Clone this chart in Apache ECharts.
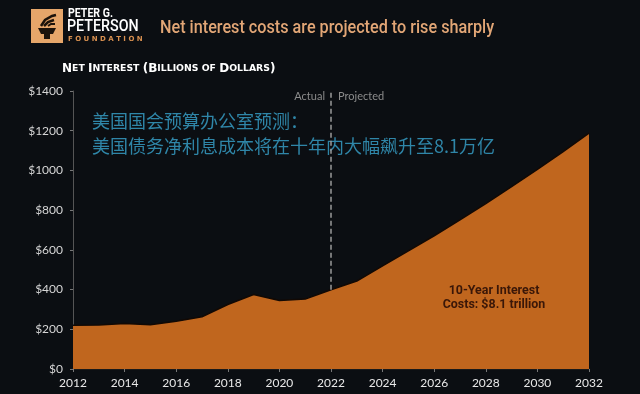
<!DOCTYPE html>
<html><head><meta charset="utf-8">
<script src="https://cdn.jsdelivr.net/npm/echarts@6/dist/echarts.min.js"></script>
<style>html,body{margin:0;padding:0;background:#0b0e12;} #c{width:640px;height:394px;}</style>
</head><body><div id="c"></div>
<script>
// ---- data ----
const actualYears = [2012,2013,2014,2015,2016,2017,2018,2019,2020,2021,2022];
const actualValues = [220,221,229,223,240,263,325,375,345,352,399];
const projectedYears = [2023,2024,2025,2026,2027,2028,2029,2030,2031,2032];
const projectedValues = [443,519,595,671,751,833,918,1005,1095,1188];
const yTicks = [0,200,400,600,800,1000,1200,1400];
const xTicks = [2012,2014,2016,2018,2020,2022,2024,2026,2028,2030,2032];
const splitYear = 2022;
const titleText = 'Net interest costs are projected to rise sharply';
const noteLine1 = '美国国会预算办公室预测：';
const noteLine2 = '美国债务净利息成本将在十年内大幅飙升至8.1万亿';
const calloutLines = ['10-Year Interest', 'Costs: $8.1 trillion'];

const years = actualYears.concat(projectedYears);
const values = actualValues.concat(projectedValues);
const seriesData = years.map((y, i) => [y, values[i]]);
const splitValue = actualValues[actualValues.length - 1];

const chart = echarts.init(document.getElementById('c'));
chart.setOption({
  backgroundColor: '#0b0e12',
  animation: false,
  grid: { left: 73, right: 51, top: 91, bottom: 25 },
  xAxis: {
    type: 'value', min: xTicks[0], max: xTicks[xTicks.length - 1], interval: 2,
    axisLine: { show: true, lineStyle: { color: '#1a1a1a', width: 2 } },
    axisTick: { show: true, length: 3, lineStyle: { color: '#777' } },
    axisLabel: { color: '#e8e8e8', fontSize: 12, fontFamily: 'Lato', margin: 8, formatter: v => String(v) },
    splitLine: { show: false }
  },
  yAxis: {
    type: 'value', min: yTicks[0], max: yTicks[yTicks.length - 1], interval: 200,
    axisLine: { show: true, lineStyle: { color: '#555' } },
    axisTick: { show: true, length: 3, lineStyle: { color: '#777' } },
    axisLabel: { color: '#d6d6d6', fontSize: 12, fontFamily: 'Lato', margin: 10, formatter: v => '$' + v },
    splitLine: { show: false }
  },
  series: [{
    type: 'line',
    data: seriesData,
    symbol: 'none',
    lineStyle: { color: '#120904', width: 1.5 },
    areaStyle: { color: '#C0661E', opacity: 1 },
    z: 3,
    markLine: {
      silent: true, symbol: 'none', animation: false,
      lineStyle: { color: '#9a9a9a', type: [5, 3], width: 1.5 },
      label: { show: false },
      data: [[{ coord: [splitYear, splitValue] }, { coord: [splitYear, yTicks[yTicks.length - 1]] }]]
    }
  }],
  graphic: [
    // logo
    { type: 'rect', shape: { x: 31, y: 9, width: 32, height: 34 }, style: { fill: '#E6A66A' } },
    { type: 'polygon', shape: { points: [[38,28],[56,28],[53,34],[41,34]] }, style: { fill: '#1c130b' } },
    { type: 'rect', shape: { x: 44, y: 34, width: 6, height: 5 }, style: { fill: '#1c130b' } },
    { type: 'polyline', shape: { points: [[41,26],[45,20],[52,16],[56,15]] }, style: { stroke: '#1c130b', lineWidth: 2.5, fill: null } },
    { type: 'polyline', shape: { points: [[44,26],[48,22],[54,20]] }, style: { stroke: '#1c130b', lineWidth: 2.5, fill: null } },
    { type: 'polyline', shape: { points: [[48,26],[51,24],[55,24]] }, style: { stroke: '#1c130b', lineWidth: 2, fill: null } },
    { type: 'text', x: 68, y: 14, scaleX: 0.88, style: { text: 'PETER G.', x: 0, y: 0, fill: '#ffffff', font: "bold 12px Roboto, sans-serif", textVerticalAlign: 'middle' } },
    { type: 'text', x: 67, y: 27, scaleX: 0.84, style: { text: 'PETERSON', x: 0, y: 0, fill: '#ffffff', font: "500 17px Roboto, sans-serif", textVerticalAlign: 'middle' } },
    { type: 'text', style: { text: 'F O U N D A T I O N', x: 68, y: 39.5, fill: '#D89050', font: "bold 7px 'DejaVu Sans', sans-serif", textVerticalAlign: 'middle' } },
    // title
    { type: 'text', x: 160, y: 28, scaleX: 0.9, style: { text: titleText, x: 0, y: 0, fill: '#E2A676', font: "500 18px Roboto, sans-serif", textVerticalAlign: 'middle' } },
    // subtitle in small caps
    { type: 'text', style: {
        x: 62, y: 69, textVerticalAlign: 'middle', fill: '#ffffff',
        text: '{b|N}{s|ET }{b|I}{s|NTEREST }{b|(B}{s|ILLIONS OF }{b|D}{s|OLLARS}{b|)}',
        rich: {
          b: { fontSize: 12, fontWeight: 'bold', fontFamily: 'DejaVu Sans', fill: '#ffffff', color: '#ffffff' },
          s: { fontSize: 9.3, fontWeight: 'bold', fontFamily: 'DejaVu Sans', fill: '#ffffff', color: '#ffffff' }
        } } },
    // actual / projected labels
    { type: 'text', style: { text: 'Actual', x: 325, y: 96, fill: '#8c8c8c', font: "11px Lato", textAlign: 'right', textVerticalAlign: 'middle' } },
    { type: 'text', style: { text: 'Projected', x: 338, y: 96, fill: '#8c8c8c', font: "11px Lato", textAlign: 'left', textVerticalAlign: 'middle' } },
    // chinese note
    { type: 'text', style: { text: noteLine1, x: 92, y: 121, fill: '#2f86a8', font: "18px 'Noto Sans CJK SC', sans-serif", textVerticalAlign: 'middle' } },
    { type: 'text', style: { text: noteLine2, x: 92, y: 146, fill: '#2f86a8', font: "18px 'Noto Sans CJK SC', sans-serif", textVerticalAlign: 'middle' } },
    // callout
    { type: 'text', z: 10, x: 494, y: 291, scaleX: 0.92, style: { text: calloutLines[0], x: 0, y: 0, fill: '#3a1708', font: "bold 13.5px Roboto, sans-serif", textAlign: 'center', textVerticalAlign: 'middle' } },
    { type: 'text', z: 10, x: 494, y: 305, scaleX: 0.92, style: { text: calloutLines[1], x: 0, y: 0, fill: '#3a1708', font: "bold 13.5px Roboto, sans-serif", textAlign: 'center', textVerticalAlign: 'middle' } }
  ]
});
</script>
</body></html>
